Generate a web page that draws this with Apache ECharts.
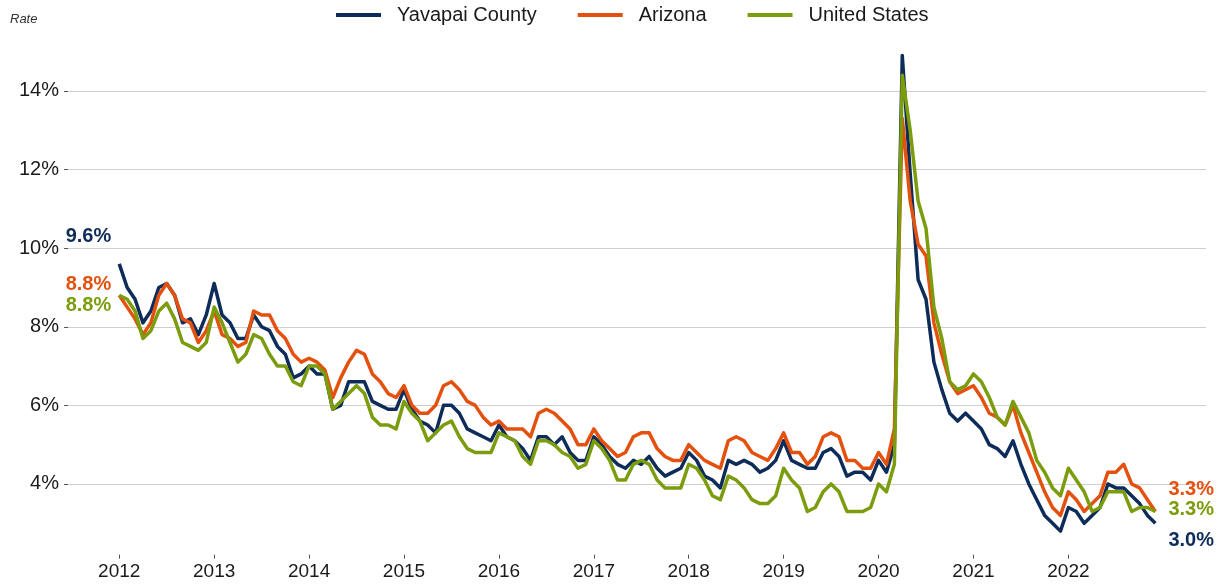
<!DOCTYPE html>
<html>
<head>
<meta charset="utf-8">
<script src="https://cdn.jsdelivr.net/npm/echarts@6/dist/echarts.min.js"></script>
<style>html,body{margin:0;padding:0;background:#fff}#c{width:1222px;height:584px}</style>
</head>
<body>
<div id="c"></div>
<script>
// ---- data (monthly, Jan 2012 .. Dec 2022) ----
const startYear = 2012;
const seriesNames = ['Yavapai County', 'Arizona', 'United States'];
const yearTicks = [2012, 2013, 2014, 2015, 2016, 2017, 2018, 2019, 2020, 2021, 2022];
const rateTicks = [4, 6, 8, 10, 12, 14];

const yavapai = [
  9.6, 9.0, 8.7, 8.1, 8.4, 9.0, 9.1, 8.8, 8.1, 8.2, 7.8, 8.3,
  9.1, 8.3, 8.1, 7.7, 7.7, 8.3, 8.0, 7.9, 7.5, 7.3, 6.7, 6.8,
  7.0, 6.8, 6.8, 5.9, 6.0, 6.6, 6.6, 6.6, 6.1, 6.0, 5.9, 5.9,
  6.4, 5.9, 5.6, 5.5, 5.3, 6.0, 6.0, 5.8, 5.4, 5.3, 5.2, 5.1,
  5.5, 5.2, 5.1, 4.9, 4.6, 5.2, 5.2, 5.0, 5.2, 4.8, 4.6, 4.6,
  5.2, 5.0, 4.7, 4.5, 4.4, 4.6, 4.5, 4.7, 4.4, 4.2, 4.3, 4.4,
  4.8, 4.6, 4.2, 4.1, 3.9, 4.6, 4.5, 4.6, 4.5, 4.3, 4.4, 4.6,
  5.1, 4.6, 4.5, 4.4, 4.4, 4.8, 4.9, 4.7, 4.2, 4.3, 4.3, 4.1,
  4.6, 4.3, 5.0, 14.9, 11.9, 9.2, 8.7, 7.1, 6.4, 5.8, 5.6, 5.8,
  5.6, 5.4, 5.0, 4.9, 4.7, 5.1, 4.5, 4.0, 3.6, 3.2, 3.0, 2.8,
  3.4, 3.3, 3.0, 3.2, 3.4, 4.0, 3.9, 3.9, 3.7, 3.5, 3.2, 3.0
];
const arizona = [
  8.8, 8.5, 8.2, 7.8, 8.1, 8.8, 9.1, 8.8, 8.2, 8.1, 7.6, 7.9,
  8.4, 7.8, 7.7, 7.5, 7.6, 8.4, 8.3, 8.3, 7.9, 7.7, 7.3, 7.1,
  7.2, 7.1, 6.9, 6.2, 6.7, 7.1, 7.4, 7.3, 6.8, 6.6, 6.3, 6.2,
  6.5, 6.0, 5.8, 5.8, 6.0, 6.5, 6.6, 6.4, 6.1, 6.0, 5.7, 5.5,
  5.6, 5.4, 5.4, 5.4, 5.2, 5.8, 5.9, 5.8, 5.6, 5.4, 5.0, 5.0,
  5.4, 5.1, 4.9, 4.7, 4.8, 5.2, 5.3, 5.3, 4.9, 4.7, 4.6, 4.6,
  5.0, 4.8, 4.6, 4.5, 4.4, 5.1, 5.2, 5.1, 4.8, 4.7, 4.6, 4.9,
  5.3, 4.8, 4.8, 4.5, 4.7, 5.2, 5.3, 5.2, 4.6, 4.6, 4.4, 4.4,
  4.8, 4.5, 5.4, 13.3, 11.2, 10.1, 9.8, 8.1, 7.3, 6.6, 6.3, 6.4,
  6.5, 6.2, 5.8, 5.7, 5.5, 6.0, 5.3, 4.8, 4.3, 3.8, 3.4, 3.2,
  3.8, 3.6, 3.3, 3.5, 3.7, 4.3, 4.3, 4.5, 4.0, 3.9, 3.6, 3.3
];
const unitedStates = [
  8.8, 8.7, 8.4, 7.7, 7.9, 8.4, 8.6, 8.2, 7.6, 7.5, 7.4, 7.6,
  8.5, 8.1, 7.6, 7.1, 7.3, 7.8, 7.7, 7.3, 7.0, 7.0, 6.6, 6.5,
  7.0, 7.0, 6.8, 5.9, 6.1, 6.3, 6.5, 6.3, 5.7, 5.5, 5.5, 5.4,
  6.1, 5.8, 5.6, 5.1, 5.3, 5.5, 5.6, 5.2, 4.9, 4.8, 4.8, 4.8,
  5.3, 5.2, 5.1, 4.7, 4.5, 5.1, 5.1, 5.0, 4.8, 4.7, 4.4, 4.5,
  5.1, 4.9, 4.6, 4.1, 4.1, 4.5, 4.6, 4.5, 4.1, 3.9, 3.9, 3.9,
  4.5, 4.4, 4.1, 3.7, 3.6, 4.2, 4.1, 3.9, 3.6, 3.5, 3.5, 3.7,
  4.4, 4.1, 3.9, 3.3, 3.4, 3.8, 4.0, 3.8, 3.3, 3.3, 3.3, 3.4,
  4.0, 3.8, 4.5, 14.4, 13.0, 11.2, 10.5, 8.5, 7.7, 6.6, 6.4, 6.5,
  6.8, 6.6, 6.2, 5.7, 5.5, 6.1, 5.7, 5.3, 4.6, 4.3, 3.9, 3.7,
  4.4, 4.1, 3.8, 3.3, 3.4, 3.8, 3.8, 3.8, 3.3, 3.4, 3.4, 3.3
];

// ---- styling ----
const colors = ['#0d2c59', '#e4500e', '#7b9c0c'];
const FONT = 'Liberation Sans, Arial, sans-serif';
// label offsets [left label dy, right label dy]
const labelOffsets = [[-27, 17], [-11, -22], [10, -2]];

function monthX(i) { return startYear + Math.floor(i / 12) + (i % 12) / 12; }
function toPairs(arr) { return arr.map((v, i) => [monthX(i), v]); }

const allData = [yavapai, arizona, unitedStates];

const chart = echarts.init(document.getElementById('c'), null, { renderer: 'canvas', width: 1222, height: 584 });

const series = allData.map((arr, k) => {
  const last = arr.length - 1;
  return {
    name: seriesNames[k],
    type: 'line',
    data: toPairs(arr),
    showSymbol: false,
    symbol: 'none',
    lineStyle: { width: 3.5, color: colors[k], join: 'round' },
    itemStyle: { color: colors[k] },
    z: 2 + k,
    animation: false,
    markPoint: {
      symbol: 'circle',
      symbolSize: 0,
      silent: true,
      animation: false,
      data: [
        {
          coord: [monthX(0), arr[0]],
          value: arr[0].toFixed(1) + '%',
          label: { show: true, position: 'left', distance: 8, offset: [0, labelOffsets[k][0]],
                   formatter: arr[0].toFixed(1) + '%', color: colors[k], fontSize: 20, fontWeight: 'bold', fontFamily: FONT }
        },
        {
          coord: [monthX(last), arr[last]],
          value: arr[last].toFixed(1) + '%',
          label: { show: true, position: 'right', distance: 13, offset: [0, labelOffsets[k][1]],
                   formatter: arr[last].toFixed(1) + '%', color: colors[k], fontSize: 20, fontWeight: 'bold', fontFamily: FONT }
        }
      ]
    }
  };
});

chart.setOption({
  animation: false,
  backgroundColor: '#ffffff',
  title: {
    text: 'Rate', left: 5, top: 8,
    textStyle: { fontSize: 13, fontStyle: 'italic', fontWeight: 'normal', color: '#333', fontFamily: FONT }
  },
  legend: {
    top: 5, left: 336, padding: 0,
    icon: 'rect', itemWidth: 45, itemHeight: 4, itemGap: 41,
    textStyle: { fontSize: 20, color: '#1a1a1a', fontFamily: FONT, padding: [0, 0, 0, 11] },
    data: seriesNames
  },
  grid: { left: 68, right: 16, top: 43.8, bottom: 29.3, containLabel: false },
  xAxis: {
    type: 'value', min: 2011.46, max: 2023.45,
    axisLine: { show: false },
    axisTick: { show: true, length: 4, lineStyle: { color: '#555' }, customValues: yearTicks },
    axisLabel: { customValues: yearTicks, fontSize: 19, color: '#1a1a1a', fontFamily: FONT, margin: 8, formatter: v => String(v) },
    splitLine: { show: false }
  },
  yAxis: {
    type: 'value', min: 2.2, max: 15.2,
    axisLine: { show: false },
    axisTick: { show: true, length: 4, lineStyle: { color: '#555' }, customValues: rateTicks },
    axisLabel: { customValues: rateTicks, fontSize: 20, color: '#1a1a1a', fontFamily: FONT, margin: 9, formatter: v => v + '%' },
    splitLine: { show: true, lineStyle: { color: '#cfcfcf', width: 1 } }
  },
  series: series
});
</script>
</body>
</html>
